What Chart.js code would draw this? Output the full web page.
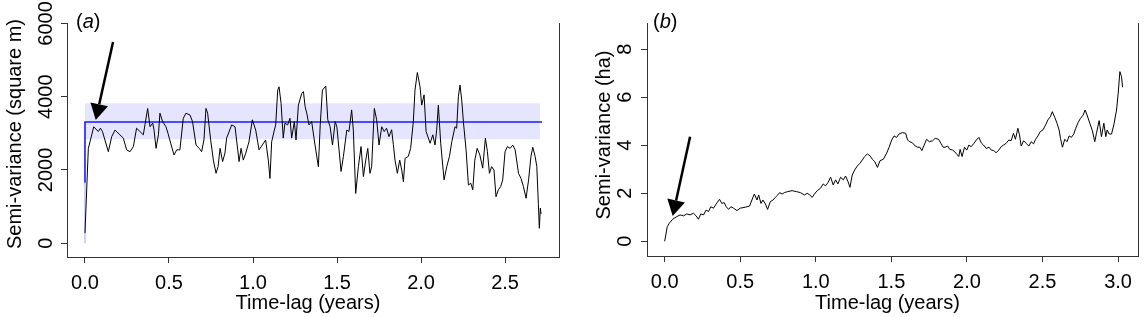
<!DOCTYPE html>
<html lang="en">
<head>
<meta charset="UTF-8">
<title>Semi-variance against time-lag</title>
<script src="https://cdn.jsdelivr.net/npm/chart.js@4.4.1/dist/chart.umd.min.js"></script>
<style>
  html, body { margin: 0; padding: 0; background: #fff; }
  .wrap { position: relative; width: 1145px; height: 317px; overflow: hidden; }
  .panel { position: absolute; top: 0; height: 317px; }
  #pa { left: 0; width: 572px; }
  #pb { left: 572px; width: 573px; }
</style>
</head>
<body>
<div class="wrap">
  <div class="panel" id="pa"><canvas id="chartA"></canvas></div>
  <div class="panel" id="pb"><canvas id="chartB"></canvas></div>
</div>

<script>
// (a) semi-variance of position, square m
const lagA = [0, 0.02, 0.03, 0.052, 0.079, 0.092, 0.104, 0.139, 0.159, 0.179, 0.208, 0.228, 0.248, 0.268, 0.288, 0.307, 0.327, 0.347, 0.357, 0.373,
  0.387, 0.403, 0.411, 0.423, 0.437, 0.446, 0.462, 0.482, 0.494, 0.51, 0.53, 0.546, 0.565, 0.585, 0.601, 0.625, 0.64, 0.661, 0.68, 0.694,
  0.708, 0.72, 0.73, 0.748, 0.764, 0.78, 0.792, 0.804, 0.819, 0.833, 0.843, 0.873, 0.893, 0.909, 0.917, 0.929, 0.942, 0.957, 0.976, 0.996,
  1.016, 1.036, 1.055, 1.075, 1.091, 1.101, 1.111, 1.127, 1.135, 1.147, 1.155, 1.167, 1.18, 1.19, 1.206, 1.22, 1.23, 1.246, 1.256, 1.27,
  1.29, 1.3, 1.31, 1.32, 1.333, 1.349, 1.369, 1.389, 1.4, 1.413, 1.433, 1.445, 1.459, 1.473, 1.489, 1.499, 1.512, 1.524, 1.538, 1.558,
  1.571, 1.587, 1.597, 1.611, 1.627, 1.643, 1.657, 1.671, 1.683, 1.696, 1.706, 1.722, 1.736, 1.75, 1.766, 1.781, 1.795, 1.809, 1.825, 1.835,
  1.845, 1.859, 1.873, 1.885, 1.895, 1.905, 1.924, 1.938, 1.954, 1.964, 1.978, 1.994, 2.004, 2.018, 2.03, 2.054, 2.07, 2.083, 2.093, 2.103,
  2.117, 2.137, 2.153, 2.169, 2.183, 2.202, 2.212, 2.222, 2.232, 2.242, 2.252, 2.268, 2.282, 2.296, 2.308, 2.32, 2.334, 2.35, 2.367, 2.383,
  2.395, 2.407, 2.42, 2.434, 2.446, 2.46, 2.474, 2.486, 2.5, 2.514, 2.53, 2.546, 2.56, 2.58, 2.595, 2.609, 2.625, 2.64, 2.654, 2.665,
  2.679, 2.689, 2.698, 2.704, 2.71, 2.714];
const semivarA = [280, 2590, 2770, 3180, 3050, 3140, 3050, 2500, 2910, 3090, 2960, 2870, 2550, 2500, 2640, 3140, 3050, 2960, 3230, 3680,
  3180, 3280, 3090, 2590, 2960, 3550, 3320, 3180, 3000, 2730, 2410, 2550, 2550, 3410, 3550, 3500, 3320, 2680, 2590, 2500,
  2820, 3680, 3550, 2820, 2270, 1910, 2090, 2590, 2230, 2460, 2870, 3230, 3180, 2550, 2230, 2590, 2270, 2460, 2770, 3370,
  3090, 2550, 2680, 2820, 2270, 1770, 2770, 3090, 3230, 4180, 4270, 3820, 2870, 3280, 3230, 3410, 2870, 3320, 2820, 3770,
  4090, 4140, 3730, 3550, 3230, 3320, 2680, 2090, 3230, 4180, 4290, 3370, 3180, 2680, 3320, 3180, 2550, 1960, 2370, 3090,
  3050, 3640, 3090, 1360, 2090, 2640, 1820, 2270, 2590, 1910, 2090, 3680, 3370, 2680, 3180, 3050, 3140, 2910, 3100, 2700,
  2270, 1910, 2270, 2000, 1680, 2320, 2370, 2590, 3320, 4180, 4660, 4270, 3770, 4050, 3050, 2730, 2960, 2680, 3090, 3770,
  2730, 1730, 2090, 2370, 2770, 3180, 3140, 4000, 4320, 3910, 3320, 2550, 1590, 1640, 1460, 2270, 2590, 2410, 2050, 2870,
  2500, 1910, 2090, 2000, 1270, 1460, 1550, 1730, 2500, 2640, 2590, 2680, 2550, 1910, 1770, 1550, 1230, 1730, 2370, 2620,
  2370, 2090, 1090, 410, 960, 800];
const modelLagA = [0, 0, 0, 2.72];
const modelA = [0, 1650, 3310, 3310];
const bandLagA = [0, 2.708];
const bandLowA = 2840;
const bandHighA = 3820;
const xTicksA = [0, 0.5, 1, 1.5, 2, 2.5];
const yTicksA = [0, 2000, 4000, 6000];

// (b) semi-variance of range area, ha
const lagB = [0, 0.017, 0.03, 0.053, 0.08, 0.102, 0.124, 0.146, 0.168, 0.19, 0.208, 0.223, 0.239, 0.257, 0.274, 0.29, 0.305, 0.323, 0.341, 0.363,
  0.378, 0.394, 0.407, 0.423, 0.438, 0.456, 0.478, 0.5, 0.533, 0.562, 0.577, 0.593, 0.611, 0.622, 0.637, 0.65, 0.666, 0.681, 0.699, 0.717,
  0.732, 0.748, 0.761, 0.777, 0.792, 0.814, 0.843, 0.872, 0.898, 0.925, 0.943, 0.96, 0.976, 0.991, 1.009, 1.031, 1.049, 1.064, 1.08, 1.098,
  1.115, 1.131, 1.146, 1.164, 1.182, 1.197, 1.213, 1.226, 1.241, 1.257, 1.275, 1.292, 1.308, 1.323, 1.341, 1.359, 1.374, 1.39, 1.408, 1.425,
  1.447, 1.469, 1.485, 1.502, 1.518, 1.534, 1.551, 1.573, 1.595, 1.607, 1.622, 1.64, 1.658, 1.673, 1.689, 1.702, 1.717, 1.733, 1.751, 1.773,
  1.79, 1.812, 1.828, 1.843, 1.856, 1.872, 1.887, 1.906, 1.928, 1.946, 1.955, 1.968, 1.984, 1.999, 2.013, 2.028, 2.044, 2.062, 2.079, 2.095,
  2.11, 2.128, 2.146, 2.161, 2.177, 2.193, 2.211, 2.226, 2.242, 2.259, 2.277, 2.292, 2.308, 2.321, 2.337, 2.348, 2.359, 2.375, 2.392, 2.41,
  2.425, 2.441, 2.454, 2.47, 2.485, 2.503, 2.521, 2.536, 2.552, 2.565, 2.581, 2.596, 2.61, 2.619, 2.632, 2.647, 2.663, 2.676, 2.691, 2.707,
  2.72, 2.735, 2.751, 2.769, 2.782, 2.795, 2.813, 2.83, 2.846, 2.857, 2.875, 2.89, 2.906, 2.919, 2.928, 2.941, 2.957, 2.972, 2.99, 3.001,
  3.012, 3.023, 3.03];
const semivarB = [0, 0.61, 0.75, 0.92, 1.03, 1.1, 1.06, 1.14, 1.1, 1.17, 1.06, 0.92, 1.14, 1.1, 1.3, 1.24, 1.44, 1.38, 1.56, 1.75,
  1.58, 1.61, 1.44, 1.33, 1.44, 1.38, 1.28, 1.38, 1.42, 1.47, 1.72, 1.97, 1.72, 1.93, 1.58, 1.72, 1.56, 1.33, 1.65, 1.72,
  1.83, 1.93, 2.03, 1.97, 2.03, 2.07, 2.11, 2.07, 2.03, 1.93, 2.0, 1.93, 1.83, 1.97, 2.11, 2.21, 2.39, 2.31, 2.44, 2.67,
  2.35, 2.56, 2.39, 2.67, 2.56, 2.72, 2.49, 2.25, 2.76, 2.97, 3.14, 3.25, 3.39, 3.53, 3.64, 3.56, 3.42, 3.32, 3.08, 3.36,
  3.42, 3.67, 3.92, 4.22, 4.39, 4.33, 4.47, 4.53, 4.5, 4.22, 4.15, 4.1, 3.97, 3.92, 3.92, 3.78, 4.01, 4.25, 4.15, 4.19,
  4.29, 4.25, 4.08, 3.92, 3.92, 3.97, 3.83, 3.8, 3.67, 3.53, 3.83, 3.53, 3.92, 3.8, 4.01, 3.94, 4.06, 4.22, 4.33, 4.1,
  4.01, 3.87, 3.92, 3.8, 3.78, 3.69, 3.8, 3.94, 4.01, 4.08, 4.22, 4.19, 4.5, 4.25, 4.71, 4.43, 3.97, 4.19, 4.08, 3.97,
  4.15, 4.06, 4.25, 4.39, 4.57, 4.64, 4.85, 5.06, 5.19, 5.4, 5.17, 4.92, 4.64, 4.29, 3.92, 4.25, 4.15, 4.39, 4.33, 4.47,
  4.71, 4.94, 5.12, 5.26, 5.47, 5.26, 4.92, 4.61, 4.15, 4.5, 5.03, 4.36, 4.92, 4.36, 4.64, 4.47, 4.47, 4.85, 5.47, 6.17,
  7.07, 6.86, 6.42];
const xTicksB = [0, 0.5, 1, 1.5, 2, 2.5, 3];
const yTicksB = [0, 2, 4, 6, 8];

// arrows in data units: tail x, tail y, tip x, tip y
const arrowA = [0.167, 5490, 0.064, 3365];
const arrowB = [0.168, 4.36, 0.053, 1.05];

const AXIS = '#333';
const FONT = "'Liberation Sans', Arial, Helvetica, sans-serif";
Chart.defaults.font.family = FONT;
Chart.defaults.font.size = 20;
Chart.defaults.color = '#000';

const pts = (xs, ys) => xs.map((x, i) => ({ x: x, y: ys[i] }));

function xScale(min, max, ticks, height) {
  return {
    type: 'linear', position: 'bottom', min: min, max: max,
    afterBuildTicks: s => { s.ticks = ticks.map(v => ({ value: v })); },
    afterFit: s => { s.height = height; s.paddingLeft = 0; s.paddingRight = 0; },
    grid: { drawOnChartArea: false, tickLength: 6, color: AXIS },
    border: { display: true, color: AXIS, width: 1 },
    ticks: { padding: 8, autoSkip: false, maxRotation: 0, callback: v => v.toFixed(1) }
  };
}

function yScale(min, max, ticks, width, pad) {
  return {
    type: 'linear', position: 'left', min: min, max: max,
    afterBuildTicks: s => { s.ticks = ticks.map(v => ({ value: v })); },
    afterFit: s => { s.width = width; s.paddingTop = 0; s.paddingBottom = 0; },
    grid: { drawOnChartArea: false, tickLength: 6, color: AXIS },
    border: { display: true, color: AXIS, width: 1 },
    ticks: { padding: pad, autoSkip: false, minRotation: 90, maxRotation: 90, crossAlign: 'center', callback: v => String(v) }
  };
}

// right-hand side of the box
function rightScale(min, max) {
  return {
    type: 'linear', position: 'right', min: min, max: max,
    afterFit: s => { s.width = 0; s.paddingTop = 0; s.paddingBottom = 0; },
    grid: { display: false },
    ticks: { display: false },
    border: { display: true, color: AXIS, width: 1 }
  };
}

function drawArrow(chart, a) {
  const ctx = chart.ctx, sx = chart.scales.x, sy = chart.scales.y;
  const x0 = sx.getPixelForValue(a[0]), y0 = sy.getPixelForValue(a[1]);
  const x1 = sx.getPixelForValue(a[2]), y1 = sy.getPixelForValue(a[3]);
  const len = Math.hypot(x1 - x0, y1 - y0);
  const ux = (x1 - x0) / len, uy = (y1 - y0) / len;
  const bx = x1 - ux * 16, by = y1 - uy * 16;
  ctx.save();
  ctx.strokeStyle = '#000';
  ctx.fillStyle = '#000';
  ctx.lineWidth = 2.5;
  ctx.beginPath();
  ctx.moveTo(x0, y0);
  ctx.lineTo(bx, by);
  ctx.stroke();
  ctx.beginPath();
  ctx.moveTo(x1, y1);
  ctx.lineTo(bx - uy * 9, by + ux * 9);
  ctx.lineTo(bx + uy * 9, by - ux * 9);
  ctx.closePath();
  ctx.fill();
  ctx.restore();
}

const decor = {
  id: 'decor',
  afterDatasetsDraw(chart, args, o) {
    drawArrow(chart, o.arrow);
  },
  afterDraw(chart, args, o) {
    const ctx = chart.ctx;
    ctx.save();
    ctx.fillStyle = '#000';
    ctx.font = '20px ' + FONT;
    ctx.textBaseline = 'alphabetic';
    // x title
    ctx.textAlign = 'center';
    ctx.fillText(o.xTitle, o.xTitlePos[0], o.xTitlePos[1]);
    // y title, reading upwards
    ctx.save();
    ctx.translate(o.yTitlePos[0], o.yTitlePos[1]);
    ctx.rotate(-Math.PI / 2);
    ctx.fillText(o.yTitle, 0, 0);
    ctx.restore();
    // panel tag: (a) with italic letter
    ctx.textAlign = 'left';
    let x = o.tagPos[0];
    const y = o.tagPos[1];
    ctx.fillText('(', x, y);
    x += ctx.measureText('(').width;
    ctx.font = 'italic 20px ' + FONT;
    ctx.fillText(o.tag, x, y);
    x += ctx.measureText(o.tag).width;
    ctx.font = '20px ' + FONT;
    ctx.fillText(')', x, y);
    ctx.restore();
  }
};

const common = {
  responsive: true,
  maintainAspectRatio: false,
  animation: false,
  devicePixelRatio: 1,
  events: [],
  elements: { point: { radius: 0 }, line: { tension: 0 } },
};

new Chart(document.getElementById('chartA'), {
  type: 'line',
  data: {
    datasets: [
      { data: pts(lagA, semivarA), borderColor: '#000', borderWidth: 1, fill: false, order: 0 },
      {
        data: pts(modelLagA, modelA), borderColor: '#1a1aff', borderWidth: 1.6, fill: false, order: 1,
        segment: { borderColor: c => c.p0DataIndex === 0 ? '#c4c4ff' : undefined }
      },
      { data: pts(bandLagA, [bandHighA, bandHighA]), borderWidth: 0, borderColor: 'rgba(0,0,0,0)', backgroundColor: 'rgba(0,0,255,0.1)', fill: '+1', order: 2 },
      { data: pts(bandLagA, [bandLowA, bandLowA]), borderWidth: 0, borderColor: 'rgba(0,0,0,0)', fill: false, order: 3 }
    ]
  },
  options: Object.assign({}, common, {
    layout: { padding: { top: 23, right: 13, left: 0, bottom: 0 } },
    scales: {
      x: xScale(-0.107, 2.821, xTicksA, 60),
      y: yScale(-374, 6011, yTicksA, 67, -8),
      y2: rightScale(-374, 6011)
    },
    plugins: {
      legend: { display: false },
      tooltip: { enabled: false },
      decor: {
        arrow: arrowA,
        xTitle: 'Time-lag (years)', xTitlePos: [308, 309],
        yTitle: 'Semi-variance (square m)', yTitlePos: [21, 134],
        tag: 'a', tagPos: [76, 28]
      }
    }
  }),
  plugins: [decor]
});

new Chart(document.getElementById('chartB'), {
  type: 'line',
  data: {
    datasets: [
      { data: pts(lagB, semivarB), borderColor: '#000', borderWidth: 1, fill: false }
    ]
  },
  options: Object.assign({}, common, {
    layout: { padding: { top: 23, right: 7, left: 0, bottom: 0 } },
    scales: {
      x: xScale(-0.117, 3.132, xTicksB, 61),
      y: yScale(-0.6125, 9.096, yTicksB, 75, 10),
      y2: rightScale(-0.6125, 9.096)
    },
    plugins: {
      legend: { display: false },
      tooltip: { enabled: false },
      decor: {
        arrow: arrowB,
        xTitle: 'Time-lag (years)', xTitlePos: [315.5, 309],
        yTitle: 'Semi-variance (ha)', yTitlePos: [38, 135],
        tag: 'b', tagPos: [81, 28]
      }
    }
  }),
  plugins: [decor]
});
</script>
</body>
</html>
